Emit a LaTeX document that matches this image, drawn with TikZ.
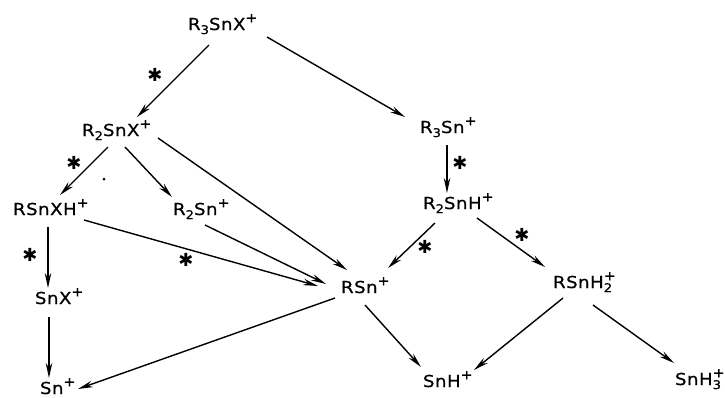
\documentclass[tikz,border=0pt]{standalone}
\usepackage{fontspec}
\setmainfont{DejaVu Sans}[FakeStretch=1.1,LetterSpace=3,FakeBold=0.6]
\newfontfamily\starfont{DejaVu Sans}
\usetikzlibrary{arrows.meta,calc}
\newcommand\lb[1]{\raisebox{-0.45ex}{\fontsize{12}{12}\selectfont #1}}
\newcommand\ub[1]{\raisebox{0.85ex}{\fontsize{13}{13}\selectfont #1}}
\newcommand\stk[2]{\rlap{\ub{#1}}\lb{#2}}
\begin{document}
\begin{tikzpicture}[x=1pt,y=-1pt,
  lbl/.style={anchor=base west,inner sep=0pt,outer sep=0pt,font=\fontsize{16.5}{16.5}\selectfont},
  arr/.style={-{Stealth[length=15pt,width=6.5pt]},line width=1.4pt},
  star/.style={inner sep=0pt,font=\starfont\fontsize{18}{18}\selectfont}]
\useasboundingbox (0,0) rectangle (725,397);
\fill[white] (0,0) rectangle (725,397);
\node[lbl] (a) at (188,30) {R\lb{3}SnX\ub{+}};
\node[lbl] (b) at (82,136) {R\lb{2}SnX\ub{+}};
\node[lbl] (c) at (420,133) {R\lb{3}Sn\ub{+}};
\node[lbl] (d) at (423,209) {R\lb{2}SnH\ub{+}};
\node[lbl] (e) at (13,215) {RSnXH\ub{+}};
\node[lbl] (f) at (173,215) {R\lb{2}Sn\ub{+}};
\node[lbl] (g) at (35,304) {SnX\ub{+}};
\node[lbl] (h) at (40,394) {Sn\ub{+}};
\node[lbl] (i) at (341,293) {RSn\ub{+}};
\node[lbl] (j) at (553,288) {RSnH\stk{+}{2}};
\node[lbl] (k) at (423,387) {SnH\ub{+}};
\node[lbl] (l) at (675,385) {SnH\stk{+}{3}};
\draw[arr] ($(a.base west)+(21,15)$) -- ($(b.base west)+(55,-19)$);
\draw[arr] ($(a.base west)+(79,7)$) -- ($(c.base west)+(-15,-16)$);
\draw[arr] ($(b.base west)+(26,11)$) -- ($(e.base west)+(47,-20)$);
\draw[arr] ($(b.base west)+(43,11)$) -- ($(f.base west)+(-1,-18)$);
\draw[arr] ($(b.base west)+(76,2)$) -- ($(i.base west)+(6,-23)$);
\draw[arr] ($(e.base west)+(71,5)$) -- ($(i.base west)+(-23,-7)$);
\draw[arr] ($(f.base west)+(32,10)$) -- ($(i.base west)+(-15,-9)$);
\draw[arr] ($(e.base west)+(35,12)$) -- ($(g.base west)+(13,-16)$);
\draw[arr] ($(g.base west)+(14,13)$) -- ($(h.base west)+(9,-16)$);
\draw[arr] ($(i.base west)+(-6,5)$) -- ($(h.base west)+(38,-5)$);
\draw[arr] ($(c.base west)+(27,12)$) -- ($(d.base west)+(24,-16)$);
\draw[arr] ($(d.base west)+(12,14)$) -- ($(i.base west)+(47,-25)$);
\draw[arr] ($(d.base west)+(54,9)$) -- ($(j.base west)+(-8,-21)$);
\draw[arr] ($(i.base west)+(24,12)$) -- ($(k.base west)+(-2,-20)$);
\draw[arr] ($(j.base west)+(10,10)$) -- ($(k.base west)+(51,-17)$);
\draw[arr] ($(j.base west)+(40,17)$) -- ($(l.base west)+(-1,-22)$);
\node[star] (s1) at (155,75) {✱};
\node[star] (s2) at (74,163) {✱};
\node[star] (s3) at (30,255) {✱};
\node[star] (s4) at (186,260) {✱};
\node[star] (s5) at (460,163) {✱};
\node[star] (s6) at (425,247) {✱};
\node[star] (s7) at (522,235) {✱};
\fill (104,179) circle (1.5);
\end{tikzpicture}
\end{document}
